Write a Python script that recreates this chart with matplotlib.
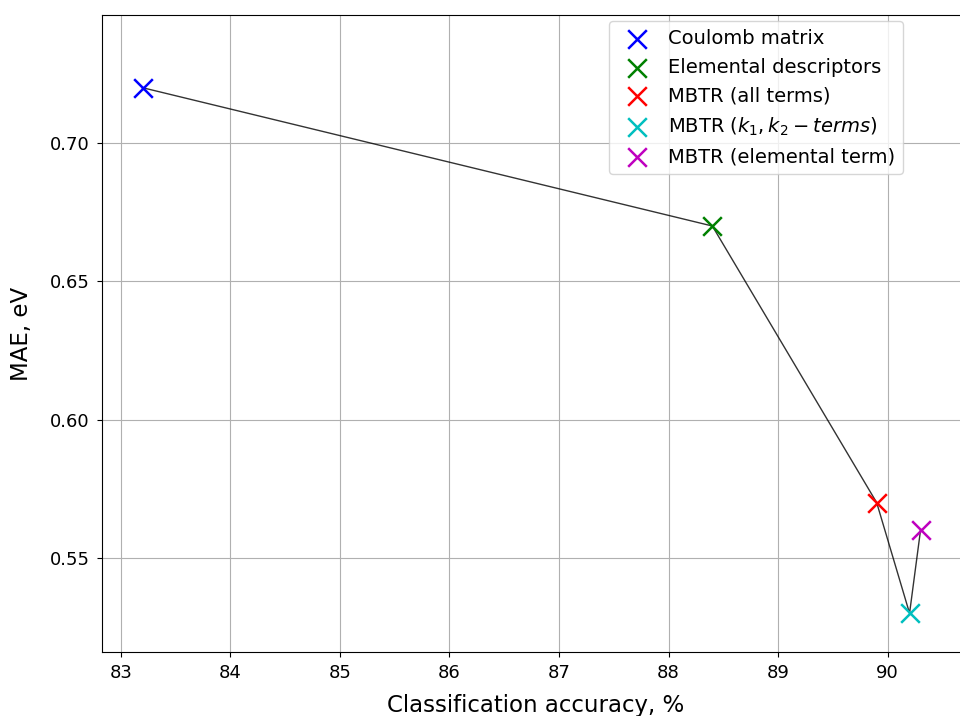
import numpy as np
import matplotlib
matplotlib.use("Agg")
import matplotlib.pyplot as plt

# classification accuracy (%) and MAE (eV) per descriptor
labels = ["Coulomb matrix", "Elemental descriptors", "MBTR (all terms)",
          r"MBTR ($k_1, k_2-terms$)", "MBTR (elemental term)"]
accuracy = [83.2, 88.4, 89.9, 90.2, 90.3]
mae = [0.72, 0.67, 0.57, 0.53, 0.56]
colors = ["b", "g", "r", "c", "m"]

fig = plt.figure(figsize=(9.6, 7.16), dpi=100)
ax = fig.add_axes([0.106, 0.0894, 0.904, 0.8897])

ax.plot(accuracy, mae, color="k", lw=1, alpha=0.8, zorder=2)
for x, y, c, lab in zip(accuracy, mae, colors, labels):
    ax.scatter(x, y, marker="x", s=180, c=c, linewidths=1.8, label=lab, zorder=3)

ax.set_xlim(82.827, 90.748)
ax.set_ylim(0.516, 0.7463)
ax.set_yticks([0.55, 0.60, 0.65, 0.70])
ax.tick_params(labelsize=13, pad=5)
ax.grid(True, color="#b0b0b0", lw=0.8)
ax.set_axisbelow(True)
ax.set_xlabel("Classification accuracy, %", fontsize=16.5, labelpad=9)
ax.set_ylabel("MAE, eV", fontsize=16.5, labelpad=12)
ax.legend(loc="upper left", bbox_to_anchor=(0.585, 0.99), borderaxespad=0,
          fontsize=14, labelspacing=0.5, handletextpad=0.6)

plt.savefig("out.png", dpi=100)
